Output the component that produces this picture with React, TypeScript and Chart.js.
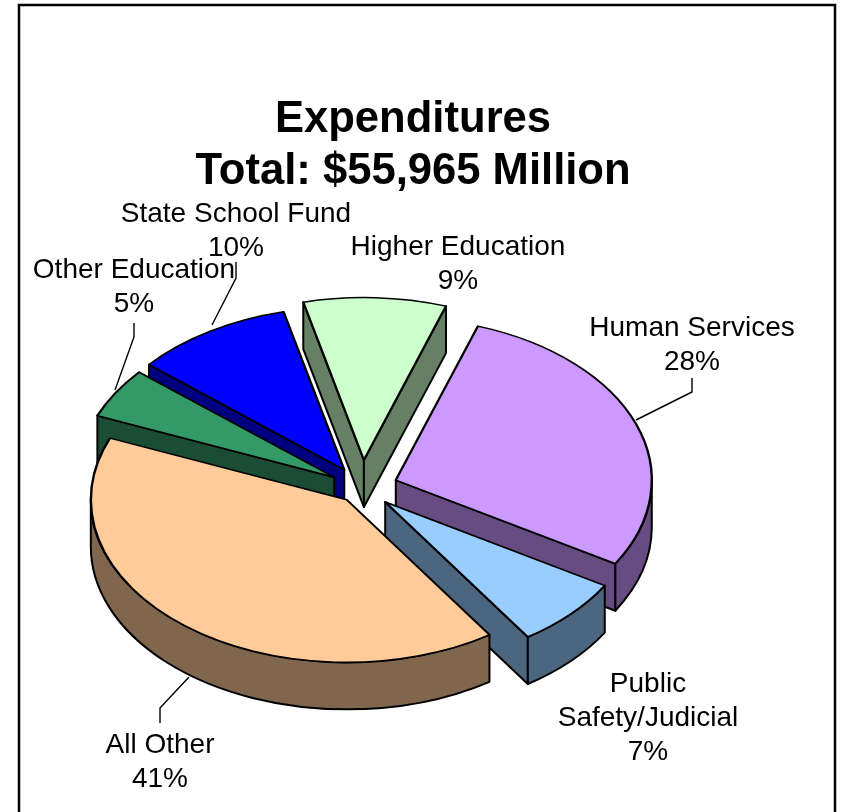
import React, { useEffect, useRef } from "react";
import { Chart, registerables } from "chart.js";

Chart.register(...registerables);

// ---- data ----
const categories: (string | string[])[] = [
  "Human Services",
  ["Public", "Safety/Judicial"],
  "All Other",
  "Other Education",
  "State School Fund",
  "Higher Education",
];
const shares = [28.4, 7.0, 40.6, 5.0, 10.0, 9.0];
const titleLines = ["Expenditures", "Total: $55,965 Million"];

// ---- styles ----
const topColors = ["#CC99FF", "#99CCFF", "#FFCC99", "#339966", "#0000FF", "#CCFFCC"];
const wallColors = ["#664C80", "#4D6680", "#80664D", "#1A4D33", "#000080", "#668066"];
const explode = [144, 128, 96, 130, 135, 176];
const FONT = '"Liberation Sans", Arial, sans-serif';
const ROTATION = 18.7;
const RADIUS = 256;
const SQUASH = 0.635;
const DEPTH = 47;
const PIE_CX = 362;
const PIE_CY = 488;
const LABEL_LEADING = 34;
// label centre x, first baseline y, per slice
const labelAnchors = [
  [692, 336],
  [648, 692],
  [160, 753],
  [134, 278],
  [236, 222],
  [458, 255],
];
// leader polylines per slice
const leaders: number[][][] = [
  [[636, 420], [692, 392], [692, 378]],
  [],
  [[189, 677], [160, 708], [160, 723]],
  [[134, 323], [134, 337], [115, 390]],
  [[236, 262], [236, 278], [212, 325]],
  [],
];

function tip(arc: any) {
  // same displacement the arc element applies for its `offset` option
  const d = (arc.options.offset || 0) / 4;
  const mid = (arc.startAngle + arc.endAngle) / 2;
  return { x: PIE_CX + Math.cos(mid) * d, y: PIE_CY + Math.sin(mid) * d * SQUASH };
}

function drawRadialFace(ctx: CanvasRenderingContext2D, t: any, r: number, a: number, color: string) {
  const ex = t.x + Math.cos(a) * r;
  const ey = t.y + Math.sin(a) * r * SQUASH;
  ctx.beginPath();
  ctx.moveTo(t.x, t.y);
  ctx.lineTo(ex, ey);
  ctx.lineTo(ex, ey + DEPTH);
  ctx.lineTo(t.x, t.y + DEPTH);
  ctx.closePath();
  ctx.fillStyle = color;
  ctx.fill();
  ctx.stroke();
}

const pie3d = {
  id: "pie3d",
  beforeDraw(chart: any) {
    const { ctx, width } = chart;
    ctx.save();
    ctx.fillStyle = "#fff";
    ctx.fillRect(0, 0, width, chart.height);
    ctx.strokeStyle = "#000";
    ctx.lineWidth = 2.5;
    ctx.strokeRect(19, 5, 816, 830);
    ctx.restore();
  },
  beforeDatasetsDraw(chart: any) {
    const { ctx } = chart;
    const arcs = chart.getDatasetMeta(0).data as any[];
    ctx.save();
    ctx.strokeStyle = "#000";
    ctx.lineWidth = 2;
    ctx.lineJoin = "round";
    const order = arcs
      .map((_, i) => i)
      .sort(
        (p, q) =>
          Math.sin((arcs[p].startAngle + arcs[p].endAngle) / 2) -
          Math.sin((arcs[q].startAngle + arcs[q].endAngle) / 2)
      );
    const TAU = Math.PI * 2;
    for (const i of order) {
      const arc = arcs[i];
      const t = tip(arc);
      const r = RADIUS;
      const a = arc.startAngle;
      const b = arc.endAngle;
      if (Math.cos(a) < 0) drawRadialFace(ctx, t, r, a, wallColors[i]);
      if (Math.cos(b) > 0) drawRadialFace(ctx, t, r, b, wallColors[i]);
      // outer wall: the part of the rim turned towards the viewer
      const na = ((a % TAU) + TAU) % TAU;
      const nb = na + (b - a);
      const spans = [
        [Math.max(na, 0), Math.min(nb, Math.PI)],
        [Math.max(na, TAU), Math.min(nb, TAU + Math.PI)],
      ];
      for (const [s, e] of spans) {
        if (e <= s) continue;
        ctx.beginPath();
        ctx.ellipse(t.x, t.y, r, r * SQUASH, 0, s, e);
        ctx.ellipse(t.x, t.y + DEPTH, r, r * SQUASH, 0, e, s, true);
        ctx.closePath();
        ctx.fillStyle = wallColors[i];
        ctx.fill();
        ctx.stroke();
      }
      // the arc element only widens an exploded slice when its sweep is not
      // a right angle; neutralise that so top face and walls stay aligned
      arc.circumference = Math.PI / 2;
    }
    ctx.restore();

    // squash the flat pie into the tilted top face
    const first = arcs[0];
    ctx.save();
    ctx.translate(PIE_CX, PIE_CY);
    ctx.scale(1, SQUASH);
    ctx.translate(-first.x, -first.y);
  },
  afterDatasetsDraw(chart: any) {
    chart.ctx.restore();
  },
  afterDraw(chart: any) {
    const { ctx } = chart;
    const values = chart.data.datasets[0].data as number[];
    const total = values.reduce((s, v) => s + v, 0);
    ctx.save();
    ctx.strokeStyle = "#000";
    ctx.lineWidth = 1.4;
    leaders.forEach((pts) => {
      if (!pts.length) return;
      ctx.beginPath();
      pts.forEach(([x, y], k) => (k ? ctx.lineTo(x, y) : ctx.moveTo(x, y)));
      ctx.stroke();
    });
    ctx.fillStyle = "#000";
    ctx.font = `28px ${FONT}`;
    ctx.textAlign = "center";
    ctx.textBaseline = "alphabetic";
    chart.data.labels.forEach((lab: string | string[], i: number) => {
      const lines = ([] as string[]).concat(lab);
      lines.push(`${Math.round((values[i] / total) * 100)}%`);
      const [x, y] = labelAnchors[i];
      lines.forEach((ln, k) => ctx.fillText(ln, x, y + k * LABEL_LEADING));
    });
    ctx.restore();
  },
};

export default function App() {
  const ref = useRef<HTMLCanvasElement | null>(null);
  useEffect(() => {
    if (!ref.current) return;
    const chart = new Chart(ref.current, {
      type: "pie",
      data: {
        labels: categories as any,
        datasets: [
          {
            data: shares,
            backgroundColor: topColors,
            borderColor: "#000",
            borderWidth: 2.4,
            offset: explode,
            radius: RADIUS,
            rotation: ROTATION,
            clip: false,
            borderJoinStyle: "round",
          } as any,
        ],
      },
      options: {
        responsive: false,
        animation: false,
        events: [],
        layout: { padding: { top: 93, right: 17, left: 0, bottom: 0 } },
        plugins: {
          legend: { display: false },
          tooltip: { enabled: false },
          title: {
            display: true,
            text: titleLines,
            color: "#000",
            font: { family: FONT, size: 43.6, weight: "bold", lineHeight: 1.215 },
            padding: { top: 0, bottom: 0 },
          },
        },
      },
      plugins: [pie3d],
    });
    return () => chart.destroy();
  }, []);
  return (
    <div style={{ position: "fixed", left: 0, top: 0, width: 843, height: 812, overflow: "hidden", background: "#fff" }}>
      <canvas ref={ref} width={843} height={812} style={{ display: "block" }} />
    </div>
  );
}
